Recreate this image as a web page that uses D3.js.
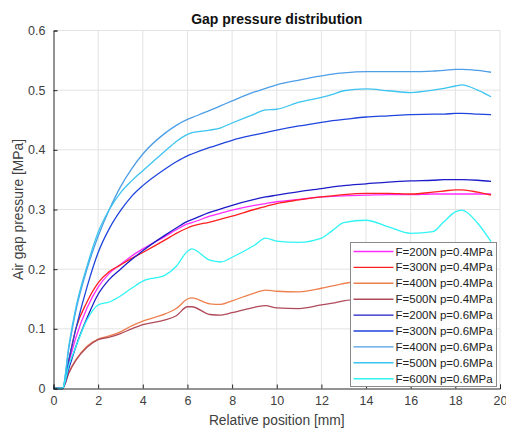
<!DOCTYPE html>
<html>
<head>
<meta charset="utf-8">
<script src="https://cdn.jsdelivr.net/npm/d3@7"></script>
<style>
  body { margin: 0; background: #fff; }
  svg { font-family: "Liberation Sans", Arial, sans-serif; }
</style>
</head>
<body>
<div id="chart"></div>
<script>
// relative position [mm], shared by every curve
var xPos = [0, 0.4, 0.7, 1, 1.5, 2, 2.5, 3, 3.5, 4, 5, 5.5, 6, 6.2, 7, 7.5, 8, 9, 9.5, 10, 11, 12, 12.5, 13, 14, 15, 16, 17, 17.5, 18, 18.3, 19, 19.6];

// air gap pressure [MPa]
var f200p04 = [0, 0, 0.045, 0.085, 0.135, 0.17, 0.193, 0.208, 0.222, 0.234, 0.255, 0.266, 0.276, 0.278, 0.289, 0.294, 0.299, 0.307, 0.31, 0.313, 0.317, 0.321, 0.322, 0.323, 0.324, 0.325, 0.325, 0.326, 0.326, 0.326, 0.326, 0.326, 0.326];
var f300p04 = [0, 0, 0.05, 0.1, 0.145, 0.177, 0.196, 0.207, 0.218, 0.228, 0.249, 0.26, 0.269, 0.272, 0.279, 0.284, 0.289, 0.3, 0.305, 0.31, 0.316, 0.321, 0.323, 0.325, 0.327, 0.327, 0.326, 0.329, 0.331, 0.333, 0.333, 0.329, 0.324];
var f400p04 = [0, 0, 0.028, 0.048, 0.071, 0.083, 0.088, 0.095, 0.105, 0.113, 0.125, 0.134, 0.15, 0.152, 0.142, 0.141, 0.147, 0.16, 0.165, 0.163, 0.162, 0.168, 0.172, 0.176, 0.181, 0.183, 0.184, 0.185, 0.185, 0.186, 0.186, 0.185, 0.184];
var f500p04 = [0, 0, 0.027, 0.047, 0.069, 0.082, 0.086, 0.092, 0.1, 0.107, 0.115, 0.122, 0.137, 0.137, 0.124, 0.123, 0.127, 0.136, 0.139, 0.135, 0.134, 0.14, 0.143, 0.147, 0.15, 0.151, 0.152, 0.153, 0.153, 0.153, 0.153, 0.152, 0.152];
var f200p06 = [0, 0, 0.035, 0.07, 0.118, 0.158, 0.183, 0.2, 0.216, 0.231, 0.257, 0.269, 0.28, 0.283, 0.295, 0.301, 0.307, 0.317, 0.321, 0.324, 0.33, 0.335, 0.338, 0.34, 0.343, 0.346, 0.348, 0.349, 0.35, 0.35, 0.35, 0.349, 0.347];
var f300p06 = [0, 0, 0.05, 0.1, 0.17, 0.228, 0.268, 0.298, 0.322, 0.34, 0.368, 0.38, 0.39, 0.393, 0.404, 0.41, 0.416, 0.425, 0.429, 0.433, 0.44, 0.446, 0.449, 0.451, 0.455, 0.457, 0.459, 0.46, 0.46, 0.461, 0.461, 0.46, 0.459];
var f400p06 = [0, 0, 0.07, 0.13, 0.2, 0.255, 0.3, 0.338, 0.368, 0.393, 0.428, 0.441, 0.451, 0.454, 0.466, 0.474, 0.482, 0.497, 0.503, 0.509, 0.517, 0.524, 0.527, 0.529, 0.531, 0.531, 0.531, 0.532, 0.533, 0.535, 0.535, 0.533, 0.53];
var f500p06 = [0, 0, 0.075, 0.135, 0.205, 0.262, 0.3, 0.328, 0.348, 0.365, 0.398, 0.414, 0.426, 0.429, 0.433, 0.437, 0.445, 0.46, 0.467, 0.468, 0.48, 0.488, 0.493, 0.499, 0.502, 0.499, 0.496, 0.5, 0.503, 0.507, 0.509, 0.5, 0.489];
var f600p06 = [0, 0, 0.04, 0.07, 0.115, 0.14, 0.145, 0.155, 0.168, 0.18, 0.19, 0.205, 0.23, 0.234, 0.215, 0.212, 0.22, 0.24, 0.252, 0.247, 0.245, 0.252, 0.265, 0.278, 0.282, 0.271, 0.26, 0.263, 0.28, 0.296, 0.299, 0.277, 0.246];

var seriesNames = ["F=200N p=0.4MPa", "F=300N p=0.4MPa", "F=400N p=0.4MPa", "F=500N p=0.4MPa",
                   "F=200N p=0.6MPa", "F=300N p=0.6MPa", "F=400N p=0.6MPa", "F=500N p=0.6MPa", "F=600N p=0.6MPa"];
var seriesValues = [f200p04, f300p04, f400p04, f500p04, f200p06, f300p06, f400p06, f500p06, f600p06];
var seriesColors = ["#ff2cff", "#ff2020", "#ee8050", "#b04a5a", "#1c1cc8", "#1f45dd", "#4c9ee6", "#3cc4f0", "#30f4f4"];

var xTicks = [0, 2, 4, 6, 8, 10, 12, 14, 16, 18, 20];
var yTicks = [0, 0.1, 0.2, 0.3, 0.4, 0.5, 0.6];

function drawChart() {
    var width = 506, height = 429;
    var mLeft = 53.5, mRight = 500, mTop = 30.5, mBottom = 388.5;

    var svg = d3.select("#chart").append("svg")
        .attr("width", width)
        .attr("height", height);

    var x = d3.scaleLinear().domain([0, 20]).range([mLeft, mRight]);
    var y = d3.scaleLinear().domain([0, 0.6]).range([mBottom, mTop]);

    // grid
    svg.append("g").selectAll("line").data(xTicks.slice(1)).enter()
        .append("line")
        .attr("x1", function(d) { return x(d); })
        .attr("x2", function(d) { return x(d); })
        .attr("y1", mTop).attr("y2", mBottom)
        .attr("stroke", "#e3e3e3").attr("stroke-width", 1);

    svg.append("g").selectAll("line").data(yTicks.slice(1)).enter()
        .append("line")
        .attr("y1", function(d) { return y(d); })
        .attr("y2", function(d) { return y(d); })
        .attr("x1", mLeft).attr("x2", mRight)
        .attr("stroke", "#e3e3e3").attr("stroke-width", 1);

    // curves
    var line = d3.line()
        .x(function(d) { return x(d[0]); })
        .y(function(d) { return y(d[1]); })
        .curve(d3.curveMonotoneX);

    seriesValues.forEach(function(vals, i) {
        svg.append("path")
            .datum(xPos.map(function(xv, j) { return [xv, vals[j]]; }))
            .attr("fill", "none")
            .attr("stroke", seriesColors[i])
            .attr("stroke-width", 1.3)
            .attr("d", line);
    });

    // axes
    var xAxis = svg.append("g")
        .attr("transform", "translate(0," + mBottom + ")")
        .call(d3.axisBottom(x).tickValues(xTicks).tickSize(-4).tickPadding(8).tickFormat(d3.format("d")));

    var yAxis = svg.append("g")
        .attr("transform", "translate(" + mLeft + ",0)")
        .call(d3.axisLeft(y).tickValues(yTicks).tickSize(-4).tickPadding(8)
            .tickFormat(function(d) { return d === 0 ? "0" : d3.format(".1f")(d); }));

    [xAxis, yAxis].forEach(function(ax) {
        ax.select(".domain").attr("stroke", "#262626");
        ax.selectAll(".tick line").attr("stroke", "#262626");
        ax.selectAll(".tick text")
            .attr("fill", "#404040")
            .style("font-size", "12.5px")
            .style("font-family", "'Liberation Sans', Arial, sans-serif");
    });

    // title and labels
    svg.append("text")
        .attr("x", (mLeft + mRight) / 2)
        .attr("y", 24)
        .attr("text-anchor", "middle")
        .attr("font-weight", "bold")
        .attr("font-size", "14px")
        .attr("fill", "#111")
        .text("Gap pressure distribution");

    svg.append("text")
        .attr("x", (mLeft + mRight) / 2)
        .attr("y", 425)
        .attr("text-anchor", "middle")
        .attr("font-size", "13.8px")
        .attr("fill", "#404040")
        .text("Relative position [mm]");

    svg.append("text")
        .attr("transform", "translate(23," + (mTop + mBottom) / 2 + ") rotate(-90)")
        .attr("text-anchor", "middle")
        .attr("font-size", "13.8px")
        .attr("fill", "#404040")
        .text("Air gap pressure [MPa]");

    // legend
    var legend = svg.append("g").attr("transform", "translate(350.5,242.5)");
    legend.append("rect")
        .attr("width", 146)
        .attr("height", 144)
        .attr("fill", "#fff")
        .attr("stroke", "#8a8a8a")
        .attr("stroke-width", 1);

    seriesNames.forEach(function(name, i) {
        var ly = 9 + i * 15.9;
        legend.append("line")
            .attr("x1", 3).attr("x2", 43)
            .attr("y1", ly).attr("y2", ly)
            .attr("stroke", seriesColors[i])
            .attr("stroke-width", 1.4);
        legend.append("text")
            .attr("x", 45)
            .attr("y", ly + 4)
            .attr("font-size", "11.5px")
            .attr("fill", "#222")
            .text(name);
    });
}

drawChart();
</script>
</body>
</html>
